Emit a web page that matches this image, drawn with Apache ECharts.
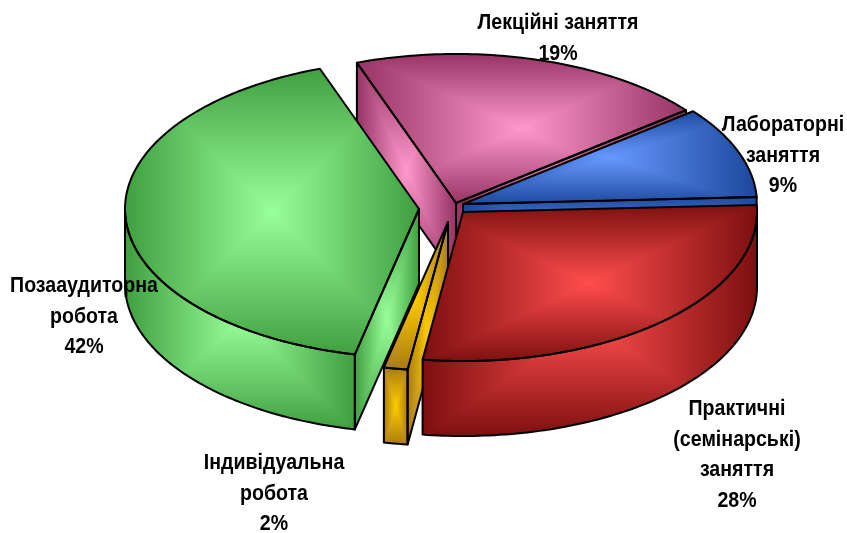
<!DOCTYPE html>
<html><head><meta charset="utf-8">
<style>html,body{margin:0;padding:0;background:#fff}#c{width:847px;height:533px}</style>
<script src="https://cdn.jsdelivr.net/npm/echarts@6/dist/echarts.min.js"></script>
</head><body><div id="c"></div>
<script>
// data
const categories = ['Лабораторні\nзаняття', 'Лекційні заняття', 'Позааудиторна\nробота', 'Індивідуальна\nробота', 'Практичні\n(семінарські)\nзаняття'];
const shares = [9, 19, 42, 2, 28];
// styles / layout
const bright = ['#6699FF', '#FF99CC', '#99FF99', '#FFCC00', '#FF4D4D'];
const dark = ['#1C479C', '#963264', '#3F9F3F', '#A87A28', '#7D0F0F'];
const explode = [[4, -3], [-3, -4], [-40, 2], [-11, 15], [4, 5]];
const perspectiveNudge = [3.4, 6.2, 2.7, 0.2, 0];
const labelAnchors = [[783, 122], [558, 20], [84, 283], [274, 460], [737, 406]];
const drawOrder = [1, 0, 2, 3, 4];
const C = [459, 207], A = 294, B = 149, DEPTH = 75, START = 2.7;
const FONT = '"Liberation Sans",Arial,sans-serif';

const total = shares.reduce((a, b) => a + b, 0);
const edges = [];
let run = 0;
shares.forEach((v, i) => {
  const a0 = START + run * 360 / total + (i ? perspectiveNudge[i - 1] : 0);
  run += v;
  edges.push([a0, START + run * 360 / total + perspectiveNudge[i]]);
});
const rad = d => d * Math.PI / 180;
function rim(i, deg) {
  const c = [C[0] + explode[i][0], C[1] + explode[i][1]];
  return [c[0] + A * Math.cos(rad(deg)), c[1] - B * Math.sin(rad(deg))];
}
function arc(i, a0, a1) {
  const pts = [], n = Math.max(2, Math.ceil(Math.abs(a1 - a0)));
  for (let k = 0; k <= n; k++) pts.push(rim(i, a0 + (a1 - a0) * k / n));
  return pts;
}
const drop = pts => pts.map(p => [p[0], p[1] + DEPTH]);
function stops(i, hor) {
  return { type: 'linear', x: 0, y: 0, x2: hor ? 1 : 0, y2: hor ? 0 : 1, colorStops: [
    { offset: 0, color: dark[i] }, { offset: 0.5, color: bright[i] }, { offset: 1, color: dark[i] }] };
}
function facesOf(i) {
  const [a0, a1] = edges[i];
  const apex = [C[0] + explode[i][0], C[1] + explode[i][1]];
  const faces = [];
  const wall = p => [apex, p, [p[0], p[1] + DEPTH], [apex[0], apex[1] + DEPTH]];
  if (Math.cos(rad(a0)) > 0) faces.push(wall(rim(i, a0)));
  if (Math.cos(rad(a1)) < 0) faces.push(wall(rim(i, a1)));
  const lo = Math.max(a0, 180), hi = Math.min(a1, 360);
  if (hi > lo) { const top = arc(i, lo, hi); faces.push(top.concat(drop(top).reverse())); }
  faces.push([apex].concat(arc(i, a0, a1)));
  return faces;
}
// horizontal layer: plain fill; vertical layer: darken blend, which together give the rectangular path gradient
function renderLayer(hor) {
  return function (params, api) {
    const i = api.value(1);
    return { type: 'group', children: facesOf(i).map((pts, k) => ({
      type: 'polygon', z2: k, silent: true, shape: { points: pts },
      style: hor ? { fill: stops(i, true), stroke: null }
                 : { fill: stops(i, false), stroke: '#000', lineWidth: 2, lineJoin: 'round' }
    })) };
  };
}
function renderLabel(params, api) {
  const i = api.value(1);
  return { type: 'text', silent: true, x: labelAnchors[i][0], y: labelAnchors[i][1] - 12, scaleX: 0.89, style: {
    text: categories[i] + '\n' + shares[i] + '%', x: 0, y: 0,
    textAlign: 'center', textVerticalAlign: 'top',
    font: 'bold 22px ' + FONT, lineHeight: 30.5, fill: '#000'
  } };
}
const series = [];
drawOrder.forEach(i => {
  const d = [{ name: categories[i], value: [shares[i], i] }];
  series.push({ type: 'custom', coordinateSystem: 'none', clip: false, z: series.length + 2, renderItem: renderLayer(true), data: d });
  series.push({ type: 'custom', coordinateSystem: 'none', clip: false, z: series.length + 2, blendMode: 'darken', renderItem: renderLayer(false), data: d });
});
series.push({ type: 'custom', coordinateSystem: 'none', clip: false, z: 50, renderItem: renderLabel,
  data: shares.map((v, i) => ({ name: categories[i], value: [v, i] })) });
const chart = echarts.init(document.getElementById('c'), null, { renderer: 'canvas' });
chart.setOption({ animation: false, backgroundColor: '#fff', series });
</script></body></html>
